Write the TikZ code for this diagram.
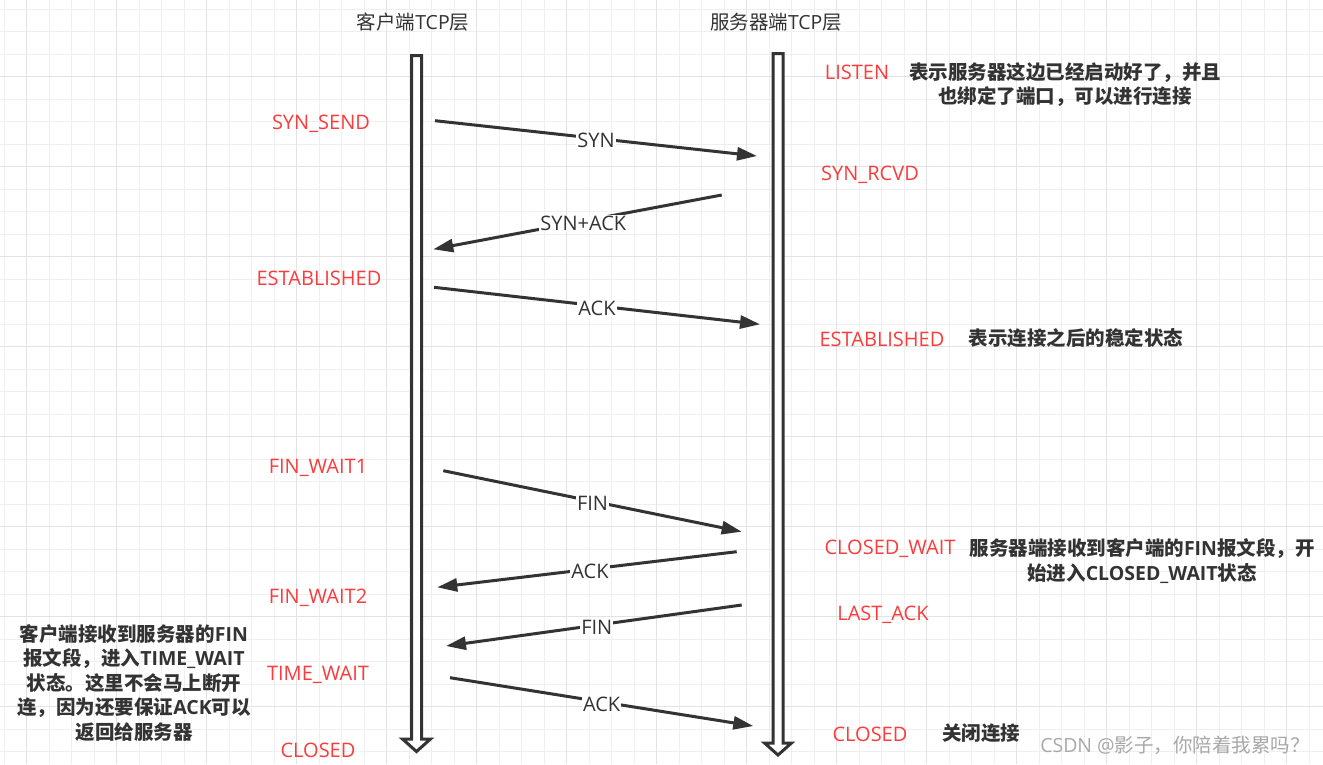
\documentclass[tikz,border=0pt]{standalone}
\usepackage{fontspec}
\setmainfont{Open Sans}
\newfontfamily\cjk{Noto Sans CJK SC}
\usetikzlibrary{arrows.meta}
\definecolor{ink}{HTML}{333333}
\definecolor{st}{HTML}{FA3C3C}
\definecolor{gridminor}{HTML}{EFEFEF}
\definecolor{gridmajor}{HTML}{E3E3E3}
\definecolor{wm}{HTML}{A8A8A8}
\newcommand\zh[1]{{\cjk #1}}
\begin{document}
\begin{tikzpicture}[x=1pt,y=-1pt,
  state/.style={text=st, font=\fontsize{20}{24}\selectfont, inner sep=0pt, yshift=-2pt},
  note/.style={text=ink, font=\fontsize{19.5}{24.5}\selectfont\bfseries, align=center, inner sep=0pt, yshift=-1pt},
  ttl/.style={text=ink, font=\fontsize{19.5}{24}\selectfont, inner sep=0pt},
  msg/.style={draw=ink, line width=3pt, -{Triangle[length=20pt,width=13pt]}},
  lbl/.style={fill=white, text=ink, font=\fontsize{20}{24}\selectfont, inner sep=1pt, yshift=-2.5pt},
  life/.style={draw=ink, line width=3pt, fill=white, line join=miter}
]
\useasboundingbox (0,0) rectangle (1323,764);
\fill[white] (0,0) rectangle (1323,764);
% grid
\foreach \i in {0,...,58} {
  \pgfmathsetmacro\gx{4.2+22.5*\i}
  \draw[gridminor, line width=1pt] (\gx,0) -- (\gx,764);
}
\foreach \j in {0,...,33} {
  \pgfmathsetmacro\gy{9+22.5*\j}
  \draw[gridminor, line width=1pt] (0,\gy) -- (1323,\gy);
}
\foreach \i in {0,...,14} {
  \pgfmathsetmacro\gx{26.7+90*\i}
  \draw[gridmajor, line width=1pt] (\gx,0) -- (\gx,764);
}
\foreach \j in {0,...,7} {
  \pgfmathsetmacro\gy{76.5+90*\j}
  \draw[gridmajor, line width=1pt] (0,\gy) -- (1323,\gy);
}

% titles
\node[ttl] (ctitle) at (413,22) {\zh{客户端}TCP\zh{层}};
\node[ttl] (stitle) at (776,22) {\zh{服务器端}TCP\zh{层}};

% lifelines
\draw[life] (411.5,55.5) -- (421.5,55.5) -- (421.5,739) -- (430.5,739) -- (416.5,751.5) -- (402.5,739) -- (411.5,739) -- cycle;
\draw[life] (773,53.5) -- (783,53.5) -- (783,743) -- (791.5,743) -- (778,755) -- (764.5,743) -- (773,743) -- cycle;

% messages
\coordinate (m1s) at (435,120.7);  \coordinate (m1e) at (757,156);
\coordinate (m2s) at (721.7,195);  \coordinate (m2e) at (433.3,249.3);
\coordinate (m3s) at (434,287.3);  \coordinate (m3e) at (760,324.3);
\coordinate (m4s) at (443.3,470.7);\coordinate (m4e) at (741.7,531.7);
\coordinate (m5s) at (736.7,551.7);\coordinate (m5e) at (437.3,587.3);
\coordinate (m6s) at (741.7,605);  \coordinate (m6e) at (446,646);
\coordinate (m7s) at (450,677.7);  \coordinate (m7e) at (753.3,726);

\draw[msg] (m1s) -- node[lbl, pos=0.5] {SYN} (m1e);
\draw[msg] (m2s) -- node[lbl, pos=0.48] {SYN+ACK} (m2e);
\draw[msg] (m3s) -- node[lbl, pos=0.5] {ACK} (m3e);
\draw[msg] (m4s) -- node[lbl, pos=0.5] {FIN} (m4e);
\draw[msg] (m5s) -- node[lbl, pos=0.49] {ACK} (m5e);
\draw[msg] (m6s) -- node[lbl, pos=0.49] {FIN} (m6e);
\draw[msg] (m7s) -- node[lbl, pos=0.5] {ACK} (m7e);

% client states
\node[state] (c1) at (321,122) {SYN\_SEND};
\node[state] (c2) at (319,276) {ESTABLISHED};
\node[state] (c3) at (318,466) {FIN\_WAIT1};
\node[state] (c4) at (318,596) {FIN\_WAIT2};
\node[state] (c5) at (318,673) {TIME\_WAIT};
\node[state] (c6) at (318,748) {CLOSED};

% server states
\node[state] (s1) at (857,70) {LISTEN};
\node[state] (s2) at (870,173) {SYN\_RCVD};
\node[state] (s3) at (882,337) {ESTABLISHED};
\node[state] (s4) at (890,547) {CLOSED\_WAIT};
\node[state] (s5) at (883,613) {LAST\_ACK};
\node[state] (s6) at (870,732) {CLOSED};

% notes
\node[note] (n1) at (1065,83.5) {\zh{表示服务器这边已经启动好了，并且}\\\zh{也绑定了端口，可以进行连接}};
\node[note] (n2) at (1076,337) {\zh{表示连接之后的稳定状态}};
\node[note] (n3) at (1142,560) {\zh{服务器端接收到客户端的}FIN\zh{报文段，开}\\\zh{始进入}CLOSED\_WAIT\zh{状态}};
\node[note] (n4) at (981,732) {\zh{关闭连接}};
\node[note] (n5) at (134,682) {\zh{客户端接收到服务器的}FIN\\\zh{报文段，进入}TIME\_WAIT\\\zh{状态。这里不会马上断开}\\\zh{连，因为还要保证}ACK\zh{可以}\\\zh{返回给服务器}};

% watermark
\node[text=wm, font=\fontsize{19.5}{22}\selectfont, inner sep=0pt] (wmk) at (1175,745) {CSDN @\zh{影子，你陪着我累吗？}};
\end{tikzpicture}
\end{document}
